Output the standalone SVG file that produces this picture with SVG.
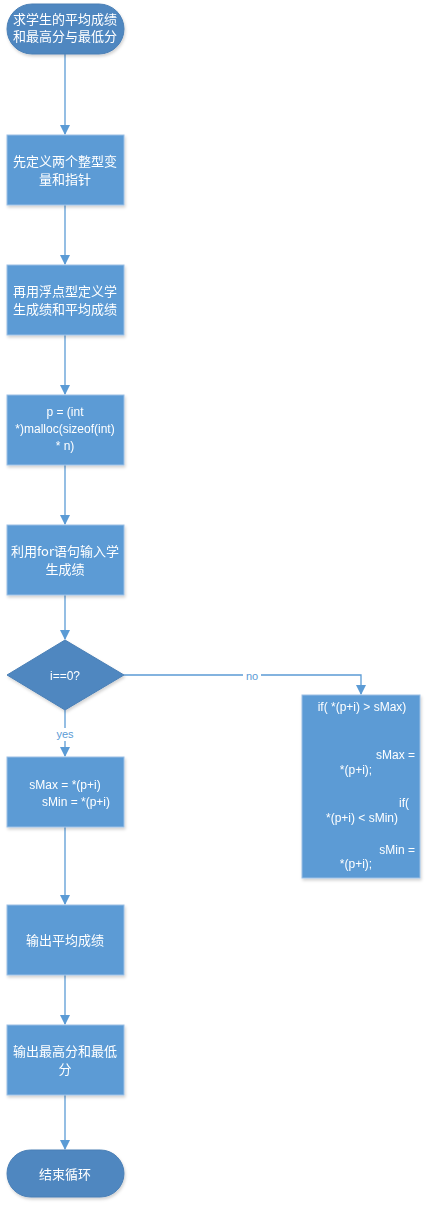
<svg xmlns="http://www.w3.org/2000/svg" width="429" height="1210" viewBox="0 0 429 1210">
<style>
.term{fill:#4f87c0;stroke:#4a7fb5;stroke-width:1}
.box{fill:#5b9bd5;stroke:#9cc0e6;stroke-width:1}
.dia{fill:#4f87c0;stroke:#4a7fb5;stroke-width:1}
.cn{font-family:"Noto Sans CJK SC","Microsoft YaHei",sans-serif;font-size:13px;fill:#ffffff;text-anchor:middle}
.en{font-family:"Liberation Sans",Arial,sans-serif;font-size:12px;fill:#ffffff;text-anchor:middle}
.en.r{text-anchor:end}
.lbl{font-family:"Liberation Sans",Arial,sans-serif;font-size:11px;fill:#5b9bd5;text-anchor:middle}
.ln{fill:none;stroke:#5b9bd5;stroke-width:1.3}
</style>
<defs>
<marker id="ah" markerWidth="10" markerHeight="10" refX="9" refY="5" orient="auto" markerUnits="userSpaceOnUse">
<path d="M0,0 L10,5 L0,10 z" fill="#5b9bd5"/>
</marker>
<filter id="sh" x="-10%" y="-10%" width="130%" height="130%">
<feDropShadow dx="1" dy="2" stdDeviation="1.5" flood-color="#000" flood-opacity="0.18"/>
</filter>
</defs>
<g id="connectors">
<path class="ln" d="M65,54 V134" marker-end="url(#ah)"/>
<path class="ln" d="M65,205 V264" marker-end="url(#ah)"/>
<path class="ln" d="M65,335 V394" marker-end="url(#ah)"/>
<path class="ln" d="M65,465 V524" marker-end="url(#ah)"/>
<path class="ln" d="M65,595 V639" marker-end="url(#ah)"/>
<path class="ln" d="M65,710 V756" marker-end="url(#ah)"/>
<path class="ln" d="M124,675 H361 V694" marker-end="url(#ah)"/>
<path class="ln" d="M65,827 V904" marker-end="url(#ah)"/>
<path class="ln" d="M65,975 V1024" marker-end="url(#ah)"/>
<path class="ln" d="M65,1095 V1149" marker-end="url(#ah)"/>
<rect x="54" y="728" width="22" height="13" fill="#ffffff"/>
<text class="lbl" x="65" y="738">yes</text>
<rect x="243" y="670" width="18" height="12" fill="#ffffff"/>
<text class="lbl" x="252" y="680">no</text>
</g>
<g id="start" filter="url(#sh)">
<rect class="term" x="7" y="4" width="117" height="50" rx="25" ry="25"/>
<text class="cn" x="65" y="24">求学生的平均成绩</text>
<text class="cn" x="65" y="41">和最高分与最低分</text>
</g>
<g id="n1" filter="url(#sh)">
<rect class="box" x="7" y="135" width="117" height="70"/>
<text class="cn" x="65" y="166">先定义两个整型变</text>
<text class="cn" x="65" y="184">量和指针</text>
</g>
<g id="n2" filter="url(#sh)">
<rect class="box" x="7" y="265" width="117" height="70"/>
<text class="cn" x="65" y="296">再用浮点型定义学</text>
<text class="cn" x="65" y="314">生成绩和平均成绩</text>
</g>
<g id="n3" filter="url(#sh)">
<rect class="box" x="7" y="395" width="117" height="70"/>
<text class="en" x="65" y="416">p = (int</text>
<text class="en" x="65" y="433">*)malloc(sizeof(int)</text>
<text class="en" x="65" y="450">* n)</text>
</g>
<g id="n4" filter="url(#sh)">
<rect class="box" x="7" y="525" width="117" height="70"/>
<text class="cn" x="65" y="556">利用for语句输入学</text>
<text class="cn" x="65" y="574">生成绩</text>
</g>
<g id="d1" filter="url(#sh)">
<path class="dia" d="M65,640 L124,675 L65,710 L7,675 z"/>
<text class="en" x="65" y="680">i==0?</text>
</g>
<g id="n5" filter="url(#sh)">
<rect class="box" x="7" y="757" width="117" height="70"/>
<text class="en" x="65" y="789">sMax = *(p+i)</text>
<text class="en" x="76" y="806">sMin = *(p+i)</text>
</g>
<g id="n6" filter="url(#sh)">
<rect class="box" x="302" y="695" width="118" height="183"/>
<text class="en" x="362" y="711">if( *(p+i) &gt; sMax)</text>
<text class="en r" x="415" y="759">sMax =</text>
<text class="en" x="356" y="774">*(p+i);</text>
<text class="en r" x="409" y="807">if(</text>
<text class="en" x="362" y="822">*(p+i) &lt; sMin)</text>
<text class="en r" x="415" y="854">sMin =</text>
<text class="en" x="356" y="868">*(p+i);</text>
</g>
<g id="n7" filter="url(#sh)">
<rect class="box" x="7" y="905" width="117" height="70"/>
<text class="cn" x="65" y="945">输出平均成绩</text>
</g>
<g id="n8" filter="url(#sh)">
<rect class="box" x="7" y="1025" width="117" height="70"/>
<text class="cn" x="65" y="1056">输出最高分和最低</text>
<text class="cn" x="65" y="1074">分</text>
</g>
<g id="end" filter="url(#sh)">
<rect class="term" x="7" y="1150" width="117" height="47" rx="23.5" ry="23.5"/>
<text class="cn" x="65" y="1179">结束循环</text>
</g>
</svg>
